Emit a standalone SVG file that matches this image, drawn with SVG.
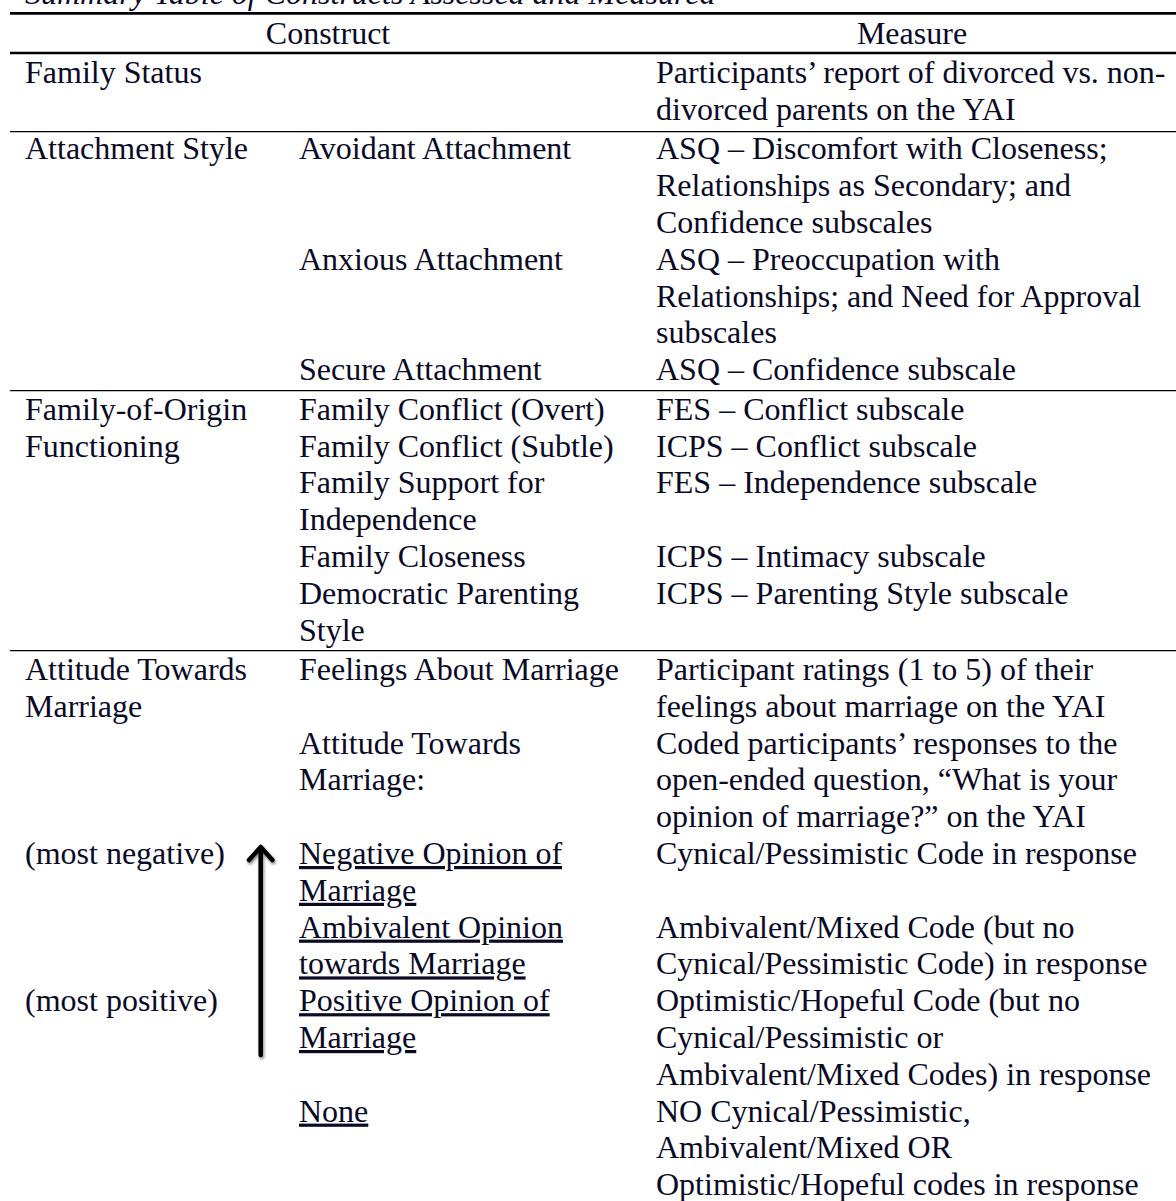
<svg xmlns="http://www.w3.org/2000/svg" width="1176" height="1201" viewBox="0 0 1176 1201">
<style>
text{font-family:"Liberation Serif","Times New Roman",serif;font-size:32px;fill:#0a0a26;}
.u{text-decoration:underline;}
.it{font-style:italic;}
.mid{text-anchor:middle;}
.thick{stroke:#000;stroke-width:2.7;}
.thin{stroke:#000;stroke-width:1.3;}
</style>
<defs>
<filter id="sh" x="-50%" y="-10%" width="200%" height="120%">
<feGaussianBlur in="SourceAlpha" stdDeviation="1.5"/>
<feOffset dx="0.5" dy="1.5" result="b"/>
<feComponentTransfer><feFuncA type="linear" slope="0.5"/></feComponentTransfer>
<feMerge><feMergeNode/><feMergeNode in="SourceGraphic"/></feMerge>
</filter>
</defs>
<rect width="1176" height="1201" fill="#fff"/>
<text id="title" class="it" x="25" y="3.5">Summary Table of Constructs Assessed and Measured</text>
<g id="rules">
<line class="thick" x1="10" y1="13.3" x2="1176" y2="13.3"/>
<line class="thick" x1="10" y1="53" x2="1176" y2="53"/>
<line class="thin" x1="10" y1="131.7" x2="1176" y2="131.7"/>
<line class="thin" x1="10" y1="390.7" x2="1176" y2="390.7"/>
<line class="thin" x1="10" y1="650.7" x2="1176" y2="650.7"/>
</g>
<g id="header">
<text class="mid" x="328" y="44">Construct</text>
<text class="mid" x="912" y="44">Measure</text>
</g>
<g id="row-family-status">
<text x="25" y="83">Family Status</text>
<text x="656" y="83">Participants’ report of divorced vs. non-</text>
<text x="656" y="119.8">divorced parents on the YAI</text>
</g>
<g id="row-attachment">
<text x="25" y="159.3">Attachment Style</text>
<text x="299" y="159.3">Avoidant Attachment</text>
<text x="656" y="159.3">ASQ – Discomfort with Closeness;</text>
<text x="656" y="196.1">Relationships as Secondary; and</text>
<text x="656" y="232.9">Confidence subscales</text>
<text x="299" y="269.7">Anxious Attachment</text>
<text x="656" y="269.7">ASQ – Preoccupation with</text>
<text x="656" y="306.5">Relationships; and Need for Approval</text>
<text x="656" y="343.3">subscales</text>
<text x="299" y="380.1">Secure Attachment</text>
<text x="656" y="380.1">ASQ – Confidence subscale</text>
</g>
<g id="row-family-origin">
<text x="25" y="419.7">Family-of-Origin</text>
<text x="25" y="456.5">Functioning</text>
<text x="299" y="419.7">Family Conflict (Overt)</text>
<text x="656" y="419.7">FES – Conflict subscale</text>
<text x="299" y="456.5">Family Conflict (Subtle)</text>
<text x="656" y="456.5">ICPS – Conflict subscale</text>
<text x="299" y="493.3">Family Support for</text>
<text x="656" y="493.3">FES – Independence subscale</text>
<text x="299" y="530.1">Independence</text>
<text x="299" y="566.9">Family Closeness</text>
<text x="656" y="566.9">ICPS – Intimacy subscale</text>
<text x="299" y="603.7">Democratic Parenting</text>
<text x="656" y="603.7">ICPS – Parenting Style subscale</text>
<text x="299" y="640.5">Style</text>
</g>
<g id="row-attitude">
<text x="25" y="680">Attitude Towards</text>
<text x="25" y="716.8">Marriage</text>
<text x="299" y="680">Feelings About Marriage</text>
<text x="656" y="680">Participant ratings (1 to 5) of their</text>
<text x="656" y="716.8">feelings about marriage on the YAI</text>
<text x="299" y="753.6">Attitude Towards</text>
<text x="656" y="753.6">Coded participants’ responses to the</text>
<text x="299" y="790.4">Marriage:</text>
<text x="656" y="790.4">open-ended question, “What is your</text>
<text x="656" y="827.2">opinion of marriage?” on the YAI</text>
<text x="25" y="864">(most negative)</text>
<text class="u" x="299" y="864">Negative Opinion of</text>
<text x="656" y="864">Cynical/Pessimistic Code in response</text>
<text class="u" x="299" y="900.8">Marriage</text>
<text class="u" x="299" y="937.6">Ambivalent Opinion</text>
<text x="656" y="937.6">Ambivalent/Mixed Code (but no</text>
<text class="u" x="299" y="974.4">towards Marriage</text>
<text x="656" y="974.4">Cynical/Pessimistic Code) in response</text>
<text x="25" y="1011.2">(most positive)</text>
<text class="u" x="299" y="1011.2">Positive Opinion of</text>
<text x="656" y="1011.2">Optimistic/Hopeful Code (but no</text>
<text class="u" x="299" y="1048">Marriage</text>
<text x="656" y="1048">Cynical/Pessimistic or</text>
<text x="656" y="1084.8">Ambivalent/Mixed Codes) in response</text>
<text class="u" x="299" y="1121.6">None</text>
<text x="656" y="1121.6">NO Cynical/Pessimistic,</text>
<text x="656" y="1158.4">Ambivalent/Mixed OR</text>
<text x="656" y="1195.2">Optimistic/Hopeful codes in response</text>
</g>
<g id="connectors">
<g id="arrow" filter="url(#sh)" fill="none" stroke="#000" stroke-width="4.5" stroke-linecap="round" stroke-linejoin="round">
<path d="M260.7 1055 L260.7 848"/>
<path d="M249 860 L260.7 847 L272.4 860"/>
</g>
</g>
</svg>
